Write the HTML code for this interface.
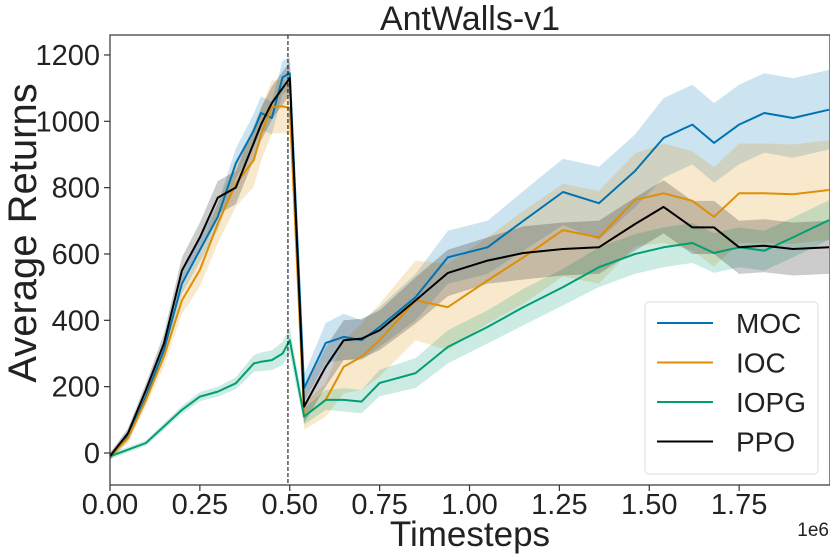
<!DOCTYPE html>
<html><head><meta charset="utf-8"><style>
body{margin:0;background:#fff;}
svg{display:block;font-family:"Liberation Sans",sans-serif;}
</style></head><body>
<svg id="chart" width="830" height="555" viewBox="0 0 830 555">
<g id="bands"></g>
<g id="lines"></g>
<g id="axes"></g>
</svg>
<script>
const xs = [0,0.05,0.1,0.15,0.2,0.25,0.3,0.35,0.4,0.42,0.45,0.48,0.5,0.54,0.6,0.65,0.7,0.75,0.85,0.94,1.05,1.15,1.26,1.36,1.46,1.54,1.62,1.68,1.75,1.82,1.9,2.0];
const mocVals = [-10,50,170,310,510,612,712,873,973,1025,1010,1133,1145,196,332,350,340,380,470,590,620,700,787,753,850,950,990,935,990,1025,1010,1035];
const mocErr = [10,15,20,25,30,35,40,45,50,50,50,50,50,40,60,70,60,60,70,80,80,90,100,110,110,120,120,120,120,120,120,120];
const iocVals = [-10,45,160,290,460,552,692,812,883,960,1043,1045,1040,110,160,260,290,340,460,440,520,590,672,650,763,783,760,712,783,783,780,793];
const iocErr = [10,15,20,30,40,50,60,70,80,80,80,80,80,40,50,80,100,110,120,130,130,140,140,140,140,150,150,150,150,150,150,150];
const iopgVals = [-10,10,30,80,130,170,185,210,270,275,280,300,340,110,160,160,155,211,241,320,380,440,500,560,600,620,633,603,620,610,650,702];
const iopgErr = [10,8,8,10,12,14,15,18,25,28,30,35,40,25,30,35,35,40,45,50,50,55,55,60,60,60,60,60,60,60,60,60];
const ppoVals = [-10,60,190,330,550,650,770,800,935,990,1055,1100,1130,140,260,340,345,370,460,543,580,603,615,620,690,742,680,680,620,625,615,620];
const ppoErr = [10,15,20,30,40,45,50,50,50,50,50,50,50,50,60,60,60,60,70,70,70,80,80,80,80,80,80,80,80,80,80,80];
const yTicks = [0,200,400,600,800,1000,1200];
const xTicks = [0,0.25,0.5,0.75,1.0,1.25,1.5,1.75];
const xTickLabels = ["0.00","0.25","0.50","0.75","1.00","1.25","1.50","1.75"];
const seriesNames = ["MOC","IOC","IOPG","PPO"];

const NS="http://www.w3.org/2000/svg";
const X0=110,X1=830,Y0=35,Y1=485;
function px(x){return 110+x*359.5;}
function py(v){return 453-v*0.3317;}
function mk(tag,attrs,parent){const e=document.createElementNS(NS,tag);for(const k in attrs)e.setAttribute(k,attrs[k]);parent.appendChild(e);return e;}
const bands=document.getElementById('bands'),lines=document.getElementById('lines'),axes=document.getElementById('axes');
const series=[[mocVals,mocErr,"#0173b2","moc"],[iocVals,iocErr,"#de8f05","ioc"],[iopgVals,iopgErr,"#029e73","iopg"],[ppoVals,ppoErr,"#000000","ppo"]];
series.forEach(s=>{
  const [v,e,c,n]=s;
  let up=xs.map((x,i)=>px(x).toFixed(1)+","+py(v[i]+e[i]).toFixed(1));
  let dn=xs.map((x,i)=>px(x).toFixed(1)+","+py(v[i]-e[i]).toFixed(1)).reverse();
  const b=mk('polygon',{points:up.concat(dn).join(" "),fill:c,'fill-opacity':0.2,stroke:'none'},bands);
  
  
});
series.forEach(s=>{
  const [v,e,c,n]=s;
  const l=mk('polyline',{points:xs.map((x,i)=>px(x).toFixed(1)+","+py(v[i]).toFixed(1)).join(" "),fill:'none',stroke:c,'stroke-width':2,'stroke-linejoin':'round'},lines);
  
  
});
const dl=mk('line',{x1:px(0.495),x2:px(0.495),y1:Y0,y2:Y1,stroke:'#000','stroke-width':1,'stroke-dasharray':'4,2'},axes);


const fr=mk('rect',{x:X0,y:Y0,width:X1-X0,height:Y1-Y0,fill:'none',stroke:'#333','stroke-width':1.2},axes);


yTicks.forEach(t=>{
  const y=py(t);
  mk('line',{x1:X0-6,x2:X0,y1:y,y2:y,stroke:'#333','stroke-width':1.2},axes);
  const tx=mk('text',{x:X0-10,y:y+10,'text-anchor':'end','font-size':29,fill:'#222'},axes);
  tx.textContent=t;
  
  
});
xTicks.forEach((t,i)=>{
  const x=px(t);
  mk('line',{x1:x,x2:x,y1:Y1,y2:Y1+6,stroke:'#333','stroke-width':1.2},axes);
  const tx=mk('text',{x:x,y:Y1+29,'text-anchor':'middle','font-size':29,fill:'#222'},axes);
  tx.textContent=xTickLabels[i];
  
  
});
function txt(s,a,name){const t=mk('text',a,axes);t.textContent=s;return t;}
txt("AntWalls-v1",{x:470,y:30,'text-anchor':'middle','font-size':34,fill:'#222'},'chart-title');
txt("Timesteps",{x:470,y:546,'text-anchor':'middle','font-size':35,fill:'#222'},'x-axis-title');
txt("1e6",{x:829,y:536,'text-anchor':'end','font-size':19,fill:'#222'},'x-axis-offset');
txt("Average Returns",{x:0,y:0,'text-anchor':'middle','font-size':40,fill:'#222',transform:'translate(36,233) rotate(-90)'},'y-axis-title');
const lg=mk('g',{},axes);


mk('rect',{x:645,y:302,width:173,height:172,rx:4,fill:'#fff','fill-opacity':0.85,stroke:'#ddd'},lg);
seriesNames.forEach((n,i)=>{
  const y=323+i*39.5;
  const g=mk('g',{},lg);
  
  
  mk('line',{x1:657,x2:713,y1:y,y2:y,stroke:series[i][2],'stroke-width':2},g);
  const t=mk('text',{x:736,y:y+10,'font-size':28,fill:'#222'},g);
  t.textContent=n;
});
</script>
</body></html>
